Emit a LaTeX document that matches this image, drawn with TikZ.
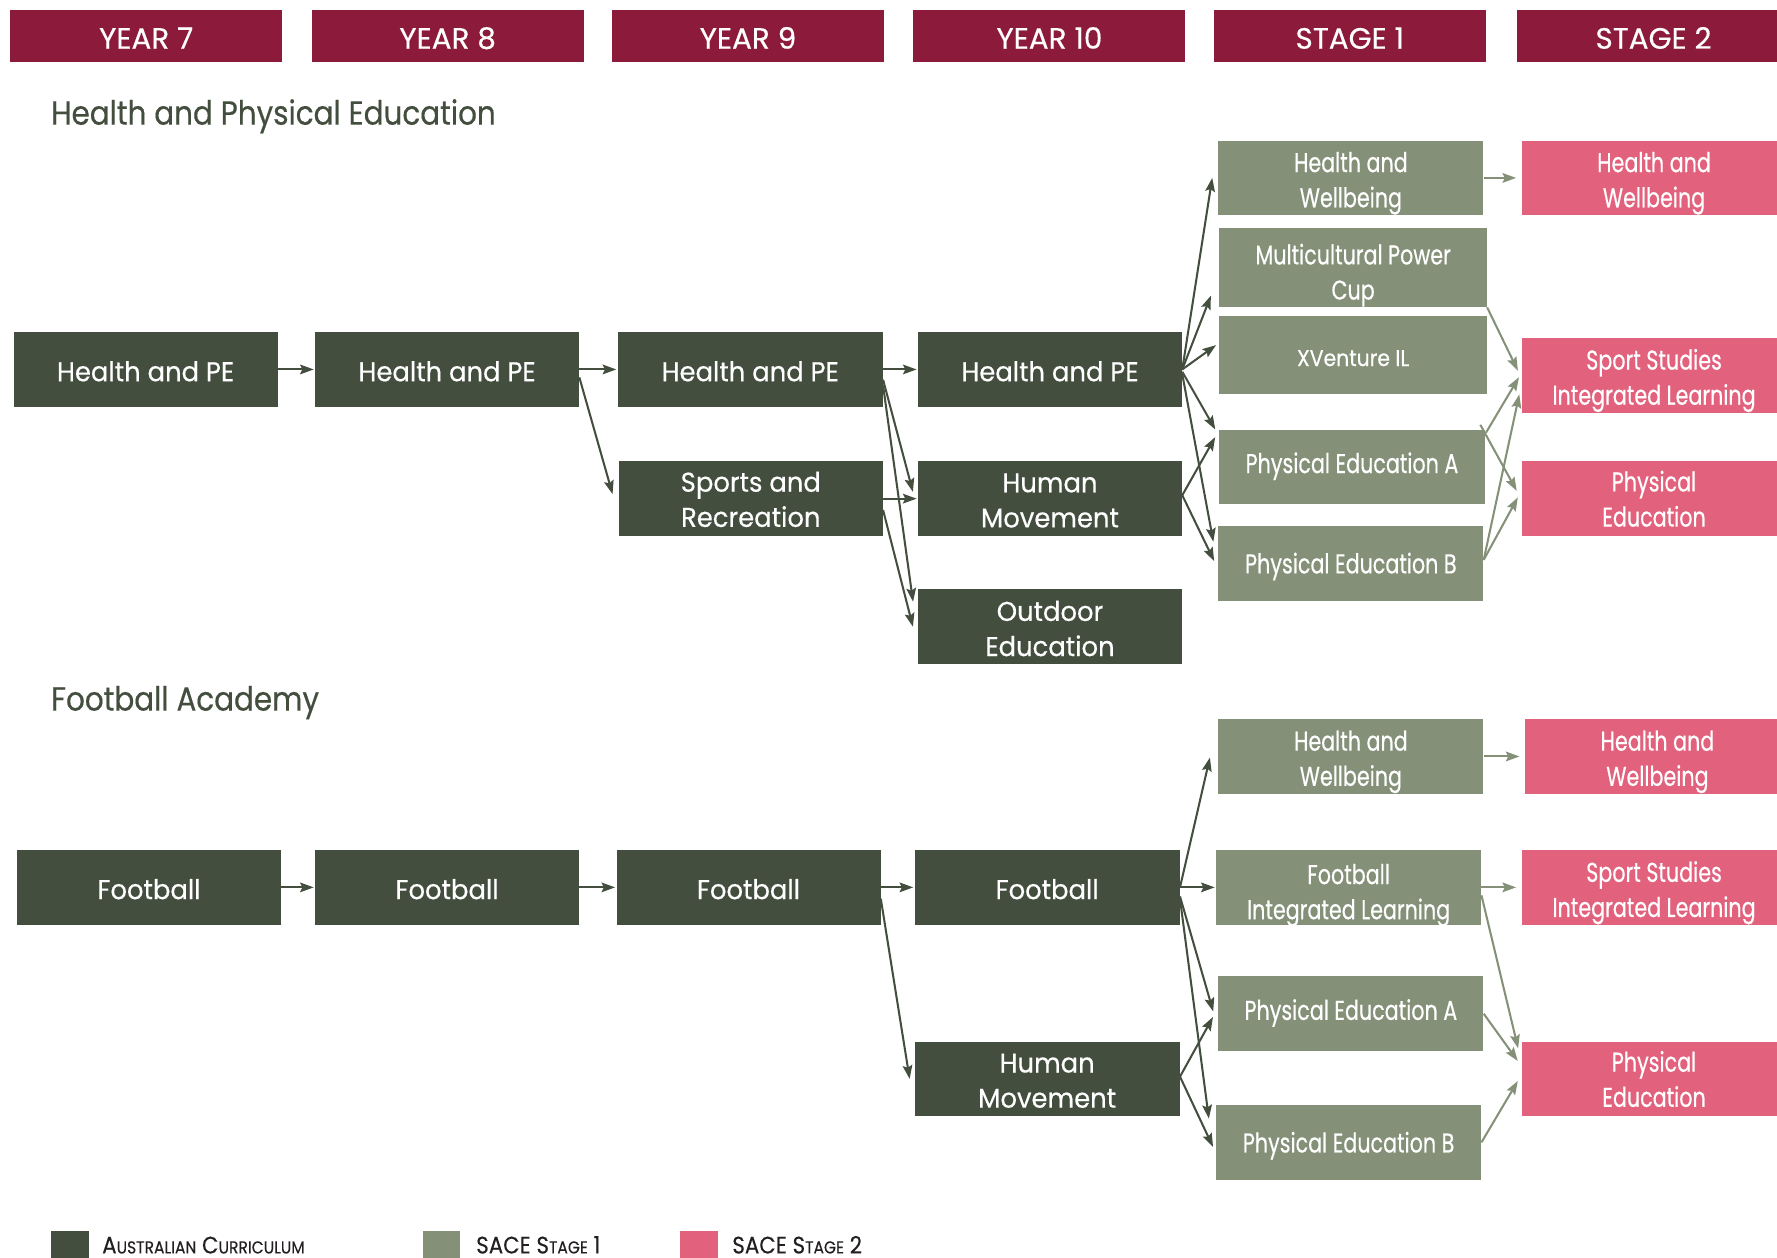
\documentclass[tikz,border=0pt]{standalone}
\usepackage{fontspec}
\usetikzlibrary{arrows.meta,calc}
\setmainfont{Poppins}
\newfontfamily\hdrfont[FakeStretch=1.0,FakeBold=0.4]{Poppins}
\newfontfamily\bookfont[FakeStretch=0.95,FakeBold=0.4]{Poppins}
\newfontfamily\titlefont[FakeStretch=0.88,FakeBold=0.4]{Poppins}
\newfontfamily\condfont[FakeStretch=0.76,FakeBold=0.4]{Poppins}
\newfontfamily\xvfont[FakeStretch=0.9,FakeBold=0.4]{Poppins}
\newfontfamily\keyfont[FakeStretch=0.9,FakeBold=0.3]{Poppins}
\definecolor{hdrred}{HTML}{8C1A3B}
\definecolor{acdark}{HTML}{434E3E}
\definecolor{sagesone}{HTML}{849078}
\definecolor{pinkstwo}{HTML}{E2617D}
\definecolor{legendink}{HTML}{231F20}

\tikzset{
  hdr/.style={fill=hdrred, text=white, minimum width=240pt, minimum height=46pt,
    inner sep=0pt, text height=22pt, text depth=0pt, font=\hdrfont\fontsize{26}{30}\selectfont},
  basebox/.style={minimum height=66pt, inner sep=0pt},
  acbox/.style={basebox, fill=acdark, minimum width=233pt},
  sonebox/.style={basebox, fill=sagesone, minimum width=234pt},
  stwobox/.style={basebox, fill=pinkstwo, minimum width=233pt},
  boxlabel/.style={text=white, inner sep=0pt, align=center, text depth=0pt, yshift=-1.5pt},
  acbox label/.style={boxlabel, font=\bookfont\fontsize{24}{31}\selectfont},
  sonebox label/.style={boxlabel, font=\condfont\fontsize{24}{31}\selectfont},
  stwobox label/.style={boxlabel, font=\condfont\fontsize{24}{31}\selectfont},
  section/.style={anchor=base west, inner sep=0pt, text=acdark,
    font=\titlefont\fontsize{29.5}{34}\selectfont},
  arrowtip/.style={-{Stealth[length=12pt,width=8.5pt,inset=2pt]}},
  darr/.style={draw=acdark, line width=1.8pt, arrowtip, shorten >=1pt},
  sarr/.style={draw=sagesone, line width=1.8pt, arrowtip, shorten >=1pt},
  keysq/.style={minimum width=33pt, minimum height=34pt, inner sep=0pt, anchor=north west},
  keytext/.style={anchor=base west, inner sep=0pt, text=legendink, font=\keyfont\fontsize{21}{24}\selectfont},
}
% small capitals built from two sizes
\newcommand{\smc}[2]{#1{\fontsize{15.2}{24}\selectfont #2}}
% a course box: [box options]{style}{name}{centre}{text}[text options]
\NewDocumentCommand{\course}{O{} m m m m O{}}{%
  \node[#2,#1] (#3) at (#4) {};
  \node[#2 label,#6] (#3-t) at (#3) {#5};}

\begin{document}
\begin{tikzpicture}[x=1pt, y=-1pt]
\useasboundingbox (0,0) rectangle (1568,1110);
\clip (0,0) rectangle (1568,1110);

% column headers
\node[hdr] (h7)  at (129,32)  {YEAR 7};
\node[hdr] (h8)  at (395,32)  {YEAR 8};
\node[hdr] (h9)  at (660,32)  {YEAR 9};
\node[hdr] (h10) at (926,32)  {YEAR 10};
\node[hdr] (hs1) at (1191,32) {STAGE 1};
\node[hdr] (hs2) at (1459,32) {STAGE 2};

% ---------------- Health and Physical Education ----------------
\node[section] (tHPE) at (45,110) {Health and Physical Education};

\course{acbox}{y7a}{128.5,326}{Health and PE}
\course{acbox}{y8a}{394.5,326}{Health and PE}
\course[minimum width=234pt]{acbox}{y9a}{662,326}{Health and PE}
\course{acbox}{y9b}{662.5,440}{Sports and\\Recreation}[yshift=1pt]
\course{acbox}{y10a}{926.5,326}{Health and PE}
\course{acbox}{y10b}{926.5,440}{Human\\Movement}
\course{acbox}{y10c}{926.5,553}{Outdoor\\Education}

\course{sonebox}{s1a}{1192,157}{Health and\\Wellbeing}
\course[minimum width=236pt, minimum height=70pt]{sonebox}{s1b}{1194,236}{Multicultural Power\\Cup}[yshift=-2.2pt]
\course[minimum width=236pt, minimum height=69pt]{sonebox}{s1c}{1194,313.5}{XVenture IL}[font=\xvfont\fontsize{20}{26}\selectfont, yshift=-1pt]
\course{sonebox}{s1d}{1193,412}{Physical Education A}[yshift=5.2pt]
\course{sonebox}{s1e}{1192,497}{Physical Education B}[yshift=1.7pt]

\course{stwobox}{s2a}{1459.5,157}{Health and\\Wellbeing}
\course{stwobox}{s2b}{1459.5,331}{Sport Studies\\Integrated Learning}
\course{stwobox}{s2c}{1459.5,440}{Physical\\Education}[yshift=1.5pt]

% year 7 to year 10
\draw[darr] (y7a.east) -- (y8a.west);
\draw[darr] (y8a.east) -- (y9a.west);
\draw[darr] ($(y8a.east)+(0,7)$) -- ($(y9b.west)+(-5,-3)$);
\draw[darr] (y9a.east) -- (y10a.west);
\draw[darr] ($(y9a.east)+(0,9)$) -- ($(y10b.west)+(-4,-5)$);
\draw[darr] ($(y9a.east)+(0,14)$) -- ($(y10c.west)+(-4,-21)$);
\draw[darr] (y9b.east) -- (y10b.west);
\draw[darr] ($(y9b.east)+(0,10)$) -- ($(y10c.west)+(-4,1)$);

% year 10 to stage 1
\draw[darr] (y10a.east) -- ($(s1a.west)+(-5,-1)$);
\draw[darr] (y10a.east) -- ($(s1b.west)+(-7,24)$);
\draw[darr] (y10a.east) -- ($(s1c.west)+(-2,-9.5)$);
\draw[darr] ($(y10a.east)+(0,2)$) -- ($(s1d.north west)+(-3,1)$);
\draw[darr] ($(y10a.east)+(0,4)$) -- ($(s1e.west)+(-4,-18)$);
\draw[darr] ($(y10b.east)+(0,-3)$) -- ($(s1d.north west)+(-3,6)$);
\draw[darr] ($(y10b.east)+(0,-3)$) -- ($(s1e.west)+(-3,-1)$);

% stage 1 to stage 2
\draw[sarr] (s1a.east) -- ($(s2a.west)+(-4,0)$);
\draw[sarr] (s1b.south east) -- ($(s2b.west)+(-3,-3)$);
\draw[sarr] ($(s1d.north east)+(1,3)$) -- ($(s2b.west)+(-2,1)$);
\draw[sarr] ($(s1d.north east)+(-4,-4)$) -- ($(s2c.west)+(-4,-6)$);
\draw[sarr] ($(s1e.east)+(0,-3)$) -- ($(s2b.west)+(-2,16)$);
\draw[sarr] ($(s1e.east)+(0,-3)$) -- ($(s2c.west)+(-3,-2)$);

% ---------------- Football Academy ----------------
\node[section] (tFA) at (45,627) {Football Academy};

\course{acbox}{f7}{131.5,783}{Football}
\course{acbox}{f8}{394.5,783}{Football}
\course{acbox}{f9}{660.5,783}{Football}
\course[minimum width=234pt]{acbox}{f10}{924,783}{Football}
\course[minimum width=234pt]{acbox}{fhm}{924,952}{Human\\Movement}

\course{sonebox}{t1a}{1192,667.5}{Health and\\Wellbeing}
\course{sonebox}{t1b}{1190,783}{Football\\Integrated Learning}[yshift=-2.2pt]
\course{sonebox}{t1c}{1192,894.5}{Physical Education A}[yshift=5.2pt]
\course{sonebox}{t1d}{1190,1008}{Physical Education B}[yshift=1.7pt]

\course{stwobox}{t2a}{1462.5,667.5}{Health and\\Wellbeing}
\course{stwobox}{t2b}{1459.5,783}{Sport Studies\\Integrated Learning}
\course{stwobox}{t2c}{1459.5,952}{Physical\\Education}[yshift=1.5pt]

% year 7 to year 10
\draw[darr] (f7.east) -- (f8.west);
\draw[darr] (f8.east) -- (f9.west);
\draw[darr] (f9.east) -- (f10.west);
\draw[darr] ($(f9.east)+(0,10)$) -- ($(fhm.west)+(-4,1)$);

% year 10 to stage 1
\draw[darr] (f10.east) -- ($(t1a.west)+(-7,0)$);
\draw[darr] (f10.east) -- (t1b.west);
\draw[darr] ($(f10.east)+(0,8)$) -- ($(t1c.west)+(-4,-1)$);
\draw[darr] ($(f10.east)+(0,10)$) -- ($(t1d.west)+(-6,-20)$);
\draw[darr] ($(fhm.east)+(0,-2)$) -- ($(t1c.west)+(-4,2)$);
\draw[darr] ($(fhm.east)+(0,-2)$) -- ($(t1d.west)+(-2,5)$);

% stage 1 to stage 2
\draw[sarr] (t1a.east) -- ($(t2a.west)+(-4,0)$);
\draw[sarr] (t1b.east) -- ($(t2b.west)+(-4,0)$);
\draw[sarr] ($(t1b.east)+(0,7)$) -- ($(t2c.west)+(-3,-26)$);
\draw[sarr] (t1c.east) -- ($(t2c.west)+(-3,-15)$);
\draw[sarr] (t1d.east) -- ($(t2c.west)+(-3,1)$);

% ---------------- key ----------------
\node[keysq, fill=acdark]   (k1) at (45,1086)  {};
\node[keysq, fill=sagesone] (k2) at (373,1086) {};
\node[keysq, fill=pinkstwo] (k3) at (600,1086) {};
\node[keytext] (k1t) at (90,1106)  {\smc{A}{USTRALIAN} \smc{C}{URRICULUM}};
\node[keytext] (k2t) at (420,1106) {SACE \smc{S}{TAGE} 1};
\node[keytext] (k3t) at (646,1106) {SACE \smc{S}{TAGE} 2};
\end{tikzpicture}
\end{document}
